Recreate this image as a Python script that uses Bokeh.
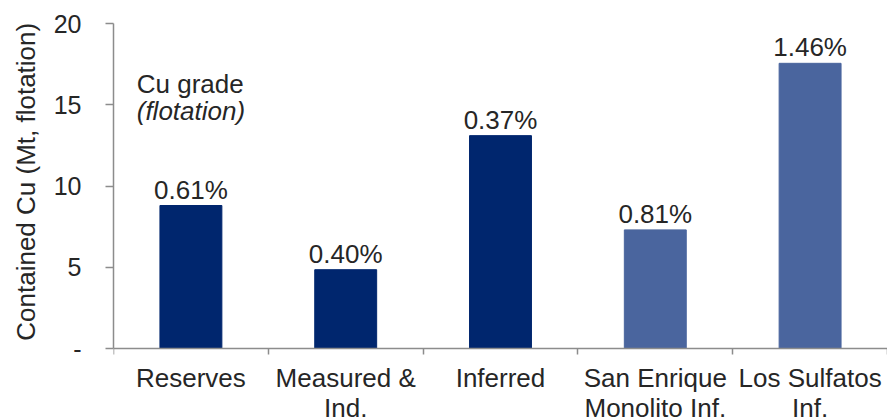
from bokeh.plotting import figure
from bokeh.models import ColumnDataSource, FixedTicker, Range1d, Label, LabelSet
from bokeh.core.properties import value
from bokeh.embed import file_html
from bokeh.resources import INLINE

categories = ["Reserves", "Measured &\nInd.", "Inferred", "San Enrique\nMonolito Inf.", "Los Sulfatos\nInf."]
contained_cu = [8.8, 4.85, 13.1, 7.3, 17.55]
grade_labels = ["0.61%", "0.40%", "0.37%", "0.81%", "1.46%"]
bar_colors = ["#00266E", "#00266E", "#00266E", "#4A659E", "#4A659E"]
y_ticks = [0, 5, 10, 15, 20]
y_tick_labels = ["-", "5", "10", "15", "20"]
y_title = "Contained Cu (Mt, flotation)"

FONT = "Liberation Sans"
W, H = 887, 419
TOP, AXIS_Y = 23, 348           # pixel rows of value 20 and value 0
Y_MAX = 20
y_min = -Y_MAX * (H - AXIS_Y) / (AXIS_Y - TOP)   # leave room below 0 for category labels

x_pos = [i + 0.5 for i in range(len(categories))]
bounds = list(range(len(categories) + 1))

src = ColumnDataSource(dict(x=x_pos, top=contained_cu, label=grade_labels, color=bar_colors))

p = figure(width=W, height=H, output_backend="svg", toolbar_location=None,
           x_range=Range1d(0, len(categories)), y_range=Range1d(y_min, Y_MAX),
           min_border_left=113, min_border_right=0, min_border_top=TOP, min_border_bottom=0)
p.outline_line_color = None
p.xgrid.grid_line_color = None
p.ygrid.grid_line_color = None

p.vbar(x="x", top="top", width=0.4, bottom=0, color="color", source=src)

labels = LabelSet(x="x", y="top", text="label", source=src, text_align="center",
                  text_baseline="alphabetic", y_offset=7, text_font=value(FONT),
                  text_font_size="26px", text_color="#262626")
p.add_layout(labels)

# x axis drawn at y = 0
p.xaxis.fixed_location = 0
p.xaxis.ticker = FixedTicker(ticks=x_pos, minor_ticks=bounds)
p.xaxis.major_label_overrides = {x: c for x, c in zip(x_pos, categories)}
p.xaxis.major_tick_line_color = None
p.xaxis.major_tick_in = 0
p.xaxis.major_tick_out = 0
p.xaxis.minor_tick_line_color = "#8C8C8C"
p.xaxis.minor_tick_line_width = 1.5
p.xaxis.minor_tick_in = 0
p.xaxis.minor_tick_out = 6
p.xaxis.axis_line_color = "#8C8C8C"
p.xaxis.axis_line_width = 1.5
p.xaxis.major_label_text_font = FONT
p.xaxis.major_label_text_font_size = "26px"
p.xaxis.major_label_text_line_height = 1.0
p.xaxis.major_label_text_color = "#262626"
p.xaxis.major_label_standoff = 8

# y axis (title padded with non-breaking spaces so it centres on the 0-20 span)
p.yaxis.bounds = (0, Y_MAX)
p.yaxis.ticker = FixedTicker(ticks=y_ticks, minor_ticks=[])
p.yaxis.major_label_overrides = {t: l for t, l in zip(y_ticks, y_tick_labels)}
p.yaxis.axis_line_color = "#8C8C8C"
p.yaxis.axis_line_width = 1.5
p.yaxis.major_tick_line_color = "#8C8C8C"
p.yaxis.major_tick_line_width = 1.5
p.yaxis.major_tick_in = 0
p.yaxis.major_tick_out = 8
p.yaxis.major_label_text_font = FONT
p.yaxis.major_label_text_font_size = "25px"
p.yaxis.major_label_text_color = "#262626"
p.yaxis.major_label_standoff = 24
p.yaxis.axis_label = "\u00a0" * 11 + y_title
p.yaxis.axis_label_text_font = FONT
p.yaxis.axis_label_text_font_size = "26px"
p.yaxis.axis_label_text_font_style = "normal"
p.yaxis.axis_label_text_color = "#262626"
p.yaxis.axis_label_standoff = 10

p.add_layout(Label(x=0.15, y=16.3, text="Cu grade", text_font=FONT, text_font_size="26px",
                   text_color="#262626", text_baseline="middle"))
p.add_layout(Label(x=0.15, y=14.6, text="(flotation)", text_font=FONT, text_font_size="26px",
                   text_font_style="italic", text_color="#262626", text_baseline="middle"))

open("out.html", "w").write(file_html(p, INLINE))
